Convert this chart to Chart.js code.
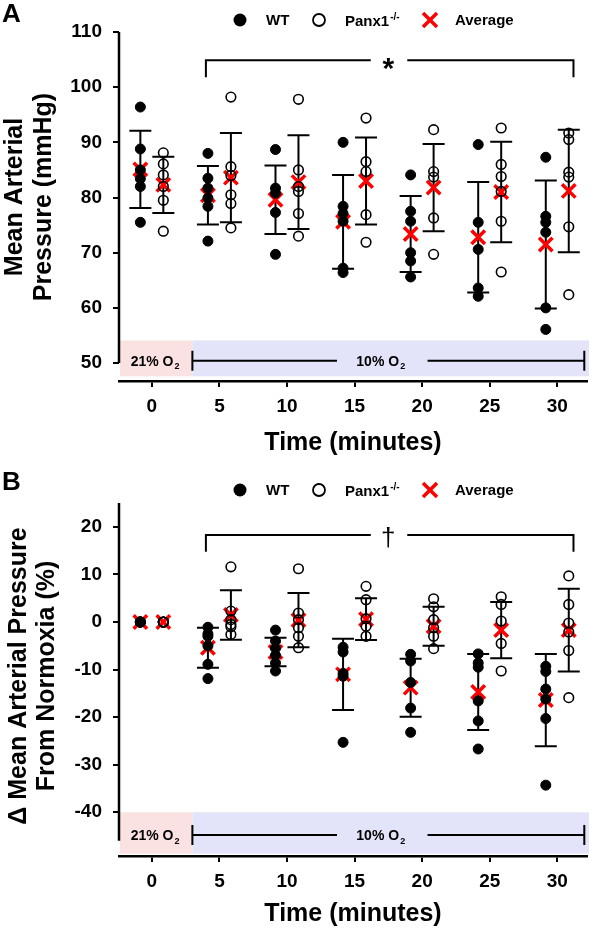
<!DOCTYPE html>
<html>
<head>
<meta charset="utf-8">
<script src="https://cdn.jsdelivr.net/npm/chart.js@4"></script>
<style>
    body { margin: 0; background: #fff; }
    #wrap { position: relative; width: 600px; height: 930px; }
    canvas { position: absolute; left: 0; }
</style>
</head>
<body>
<div id="wrap">
    <canvas id="graficoA" width="600" height="460" style="top:0"></canvas>
    <canvas id="graficoB" width="600" height="470" style="top:460px"></canvas>
</div>
<script>
const tempos = [0, 5, 10, 15, 20, 25, 30];
const ticksX = [0, 5, 10, 15, 20, 25, 30];
const ticksYA = [50, 60, 70, 80, 90, 100, 110];
const ticksYB = [-40, -30, -20, -10, 0, 10, 20];

// Painel A - pressao arterial media (mmHg), um array por tempo
const wtA = [
    [96.4, 88.8, 85.0, 83.4, 82.0, 75.5],
    [88.0, 83.5, 81.7, 79.9, 78.4, 72.1],
    [88.7, 81.7, 80.8, 77.3, 69.7],
    [90.0, 78.4, 77.1, 75.7, 67.2, 66.4],
    [84.1, 77.5, 75.7, 70.0, 68.5, 65.6],
    [89.6, 75.5, 70.6, 63.6, 62.1],
    [87.3, 76.6, 75.5, 73.7, 60.0, 56.1]
];
const panxA = [
    [88.1, 86.1, 84.1, 82.0, 79.5, 73.9],
    [98.2, 85.6, 84.0, 80.5, 78.9, 74.5],
    [97.8, 85.0, 82.0, 81.1, 77.1, 73.0],
    [94.4, 86.5, 84.7, 76.9, 71.9],
    [92.3, 84.7, 83.7, 76.3, 69.7],
    [92.6, 86.0, 83.8, 81.1, 75.7, 66.5],
    [91.7, 90.5, 84.6, 83.7, 74.7, 62.4]
];
const mediaWtA = [85.1, 80.4, 79.6, 75.6, 73.4, 72.8, 71.5];
const dpWtA = [7.0, 5.3, 6.2, 8.5, 6.9, 10.0, 11.6];
const mediaPanxA = [82.3, 83.6, 82.8, 83.0, 81.8, 81.0, 81.2];
const dpPanxA = [5.1, 8.1, 8.5, 7.9, 7.9, 9.1, 11.1];

// Painel B - variacao em relacao a normoxia (%)
const wtB = [
    [0, 0, 0, 0, 0, 0],
    [-1.1, -2.5, -3.0, -5.0, -8.9, -11.9],
    [-1.7, -4.0, -5.5, -7.0, -8.6, -10.3],
    [-5.3, -6.3, -10.8, -11.4, -25.3],
    [-6.8, -8.2, -12.7, -18.1, -23.2],
    [-6.7, -8.6, -9.5, -16.6, -20.8, -26.7],
    [-9.3, -10.4, -14.1, -16.2, -20.3, -34.3]
];
const panxB = [
    [0, 0, 0, 0, 0],
    [11.6, 2.3, 0.5, -0.5, -1.0, -2.6],
    [11.2, 1.9, 0.5, -1.2, -3.0, -5.4],
    [7.5, 4.7, 0.7, -0.9, -3.0],
    [4.9, 3.2, 0.5, -1.2, -3.0, -5.6],
    [5.3, 3.7, 0.2, -4.5, -10.3],
    [9.7, 3.7, -0.2, -2.1, -6.0, -15.9]
];
const mediaWtB = [0, -5.4, -6.3, -11.0, -13.8, -14.7, -16.4];
const dpWtB = [0, 4.2, 3.0, 7.5, 6.1, 8.0, 9.7];
const mediaPanxB = [0, 1.5, 0.4, 0.6, -0.9, -1.7, -1.7];
const dpPanxB = [0, 5.2, 5.7, 4.4, 4.1, 5.9, 8.7];

const FONTE = 'Arial, "Liberation Sans", sans-serif';
const DESLOC = 0.85; // deslocamento horizontal WT / Panx1 (min)

function pontos(grupos, desloc) {
    const lista = [];
    grupos.forEach((valores, i) => {
        valores.forEach(v => lista.push({ x: tempos[i] + desloc, y: v }));
    });
    return lista;
}

function pontosMedia(medias, desloc) {
    return medias.map((m, i) => ({ x: tempos[i] + desloc, y: m }));
}

function desenharBarras(ctx, escX, escY, medias, dps, desloc) {
    medias.forEach((m, i) => {
        if (!dps[i]) return;
        const px = escX.getPixelForValue(tempos[i] + desloc);
        const yTop = escY.getPixelForValue(m + dps[i]);
        const yBot = escY.getPixelForValue(m - dps[i]);
        ctx.beginPath();
        ctx.moveTo(px, yTop); ctx.lineTo(px, yBot);
        ctx.moveTo(px - 11, yTop); ctx.lineTo(px + 11, yTop);
        ctx.moveTo(px - 11, yBot); ctx.lineTo(px + 11, yBot);
        ctx.stroke();
    });
}

// texto com indice (O2) ou expoente (-/-)
function textoComIndice(ctx, base, indice, x, y, tam, sobe, alinhar) {
    ctx.font = "bold " + tam + "px " + FONTE;
    const w1 = ctx.measureText(base).width;
    ctx.font = "bold " + Math.round(tam * 0.65) + "px " + FONTE;
    const w2 = ctx.measureText(indice).width;
    let x0 = x;
    if (alinhar === "center") x0 = x - (w1 + w2) / 2;
    ctx.textAlign = "left";
    ctx.textBaseline = "alphabetic";
    ctx.font = "bold " + tam + "px " + FONTE;
    ctx.fillText(base, x0, y);
    ctx.font = "bold " + Math.round(tam * 0.65) + "px " + FONTE;
    ctx.fillText(indice, x0 + w1 + 1, sobe ? y - tam * 0.4 : y + tam * 0.25);
}

const pluginExtras = {
    id: "extras",
    beforeDatasetsDraw(chart, args, op) {
        const { ctx, chartArea, scales: { x, y } } = chart;
        ctx.save();
        // faixa de O2
        const yt = y.getPixelForValue(op.faixa[0]);
        const yb = y.getPixelForValue(op.faixa[1]);
        const xm = x.getPixelForValue(3);
        ctx.fillStyle = "#fbe2e2";
        ctx.fillRect(chartArea.left + 1, yt, xm - chartArea.left - 1, yb - yt);
        ctx.fillStyle = "#e3e3fa";
        ctx.fillRect(xm, yt, chartArea.right + 2 - xm, yb - yt);

        ctx.strokeStyle = "#000";
        ctx.fillStyle = "#000";
        ctx.lineWidth = 2;
        const yl = y.getPixelForValue(op.linhaFaixa);
        const xFim = x.getPixelForValue(32.0);
        ctx.beginPath();
        ctx.moveTo(xm, yl); ctx.lineTo(x.getPixelForValue(13.7), yl);
        ctx.moveTo(x.getPixelForValue(20.4), yl); ctx.lineTo(xFim, yl);
        ctx.moveTo(xm, yl - 10); ctx.lineTo(xm, yl + 10);
        ctx.moveTo(xFim, yl - 10); ctx.lineTo(xFim, yl + 10);
        ctx.stroke();
        textoComIndice(ctx, "21% O", "2", x.getPixelForValue(0.2), yl + 5, 14, false, "center");
        textoComIndice(ctx, "10% O", "2", x.getPixelForValue(16.9), yl + 5, 14, false, "center");

        // barras de erro (media +/- DP)
        ctx.lineWidth = 2;
        desenharBarras(ctx, x, y, op.mediaWt, op.dpWt, -DESLOC);
        desenharBarras(ctx, x, y, op.mediaPanx, op.dpPanx, DESLOC);
        ctx.restore();
    },
    afterDraw(chart, args, op) {
        const { ctx, chartArea, scales: { x, y } } = chart;
        ctx.save();
        ctx.strokeStyle = "#000";
        ctx.fillStyle = "#000";

        // eixo y
        ctx.lineWidth = 2.5;
        ctx.beginPath();
        ctx.moveTo(chartArea.left, y.getPixelForValue(op.eixoY[0]));
        ctx.lineTo(chartArea.left, y.getPixelForValue(op.eixoY[1]));
        ctx.stroke();

        // letra do painel
        ctx.font = "bold 26px " + FONTE;
        ctx.textAlign = "left";
        ctx.textBaseline = "top";
        ctx.fillText(op.letra, 2, op.letraY);

        // titulo do eixo y (duas linhas)
        ctx.save();
        ctx.translate(0, op.tituloY);
        ctx.rotate(-Math.PI / 2);
        ctx.font = "bold 25px " + FONTE;
        ctx.textAlign = "center";
        ctx.textBaseline = "middle";
        ctx.fillText(op.titulo[0], 0, op.tituloX[0]);
        ctx.fillText(op.titulo[1], 0, op.tituloX[1]);
        ctx.restore();

        // legenda
        const ly = op.legendaY;
        ctx.beginPath();
        ctx.arc(240, ly, 6.5, 0, Math.PI * 2);
        ctx.fill();
        ctx.lineWidth = 1.8;
        ctx.beginPath();
        ctx.arc(319, ly, 6, 0, Math.PI * 2);
        ctx.stroke();
        ctx.strokeStyle = "#ff0000";
        ctx.lineWidth = 3.5;
        ctx.beginPath();
        ctx.moveTo(423, ly - 7); ctx.lineTo(437, ly + 7);
        ctx.moveTo(437, ly - 7); ctx.lineTo(423, ly + 7);
        ctx.stroke();
        ctx.font = "bold 15px " + FONTE;
        ctx.textAlign = "left";
        ctx.textBaseline = "middle";
        ctx.fillText("WT", 266, ly + 1);
        ctx.fillText("Average", 455, ly + 1);
        textoComIndice(ctx, "Panx1", "-/-", 345, ly + 6, 15, true, "left");

        // colchete de significancia
        ctx.strokeStyle = "#000";
        ctx.lineWidth = 2;
        const bt = y.getPixelForValue(op.colchete[0]);
        const bb = y.getPixelForValue(op.colchete[1]);
        const x1 = x.getPixelForValue(4.0), x2 = x.getPixelForValue(31.2);
        ctx.beginPath();
        ctx.moveTo(x1, bb); ctx.lineTo(x1, bt); ctx.lineTo(x.getPixelForValue(16.2), bt);
        ctx.moveTo(x.getPixelForValue(18.9), bt); ctx.lineTo(x2, bt); ctx.lineTo(x2, bb);
        ctx.stroke();
        ctx.font = op.simboloFonte + FONTE;
        ctx.textAlign = "center";
        ctx.textBaseline = "alphabetic";
        ctx.fillText(op.simbolo, x.getPixelForValue(17.5), bt + op.simboloDesc);
        ctx.restore();
    }
};

function criarGrafico(id, cfg) {
    const ctx = document.getElementById(id).getContext("2d");
    return new Chart(ctx, {
        type: "scatter",
        data: {
            datasets: [
                {
                    label: "WT",
                    data: pontos(cfg.wt, -DESLOC),
                    pointRadius: 5,
                    pointBorderWidth: 1,
                    backgroundColor: "#000",
                    borderColor: "#000"
                },
                {
                    label: "Panx1-/-",
                    data: pontos(cfg.panx, DESLOC),
                    pointRadius: 4.8,
                    pointBorderWidth: 1.6,
                    backgroundColor: "rgba(0,0,0,0)",
                    borderColor: "#000"
                },
                {
                    label: "Average",
                    data: pontosMedia(cfg.mediaWt, -DESLOC).concat(pontosMedia(cfg.mediaPanx, DESLOC)),
                    pointStyle: "crossRot",
                    pointRadius: 9.5,
                    pointBorderWidth: 3.5,
                    borderColor: "#ff0000",
                    backgroundColor: "#ff0000"
                }
            ]
        },
        options: {
            responsive: false,
            animation: false,
            devicePixelRatio: 1,
            layout: { padding: { top: cfg.topo, right: 10, left: 0, bottom: 0 } },
            plugins: {
                legend: { display: false },
                tooltip: { enabled: false },
                extras: cfg.extras
            },
            scales: {
                x: {
                    type: "linear",
                    min: -2.43,
                    max: 32.2,
                    afterBuildTicks: s => { s.ticks = ticksX.map(v => ({ value: v })); },
                    afterFit: s => { s.height = cfg.alturaX; },
                    grid: { drawOnChartArea: false, drawTicks: true, tickLength: 6, color: "#000", lineWidth: 2 },
                    border: { display: true, color: "#000", width: 2.5 },
                    ticks: { color: "#000", padding: 8, maxRotation: 0, autoSkip: false,
                             font: { family: FONTE, size: 19, weight: "bold" } },
                    title: { display: true, text: "Time (minutes)", color: "#000",
                             font: { family: FONTE, size: 25, weight: "bold", lineHeight: 1 },
                             padding: { top: 0, bottom: cfg.padTitulo } }
                },
                y: {
                    type: "linear",
                    min: cfg.yMin,
                    max: cfg.yMax,
                    afterBuildTicks: s => { s.ticks = cfg.ticksY.map(v => ({ value: v })); },
                    afterFit: s => { s.width = 119; },
                    grid: { drawOnChartArea: false, drawTicks: true, tickLength: 6, color: "#000", lineWidth: 2 },
                    border: { display: false },
                    ticks: { color: "#000", padding: 11,
                             font: { family: FONTE, size: 19, weight: "bold" } }
                }
            }
        },
        plugins: [pluginExtras]
    });
}

criarGrafico("graficoA", {
    wt: wtA, panx: panxA, mediaWt: mediaWtA, mediaPanx: mediaPanxA,
    ticksY: ticksYA, yMin: 46.75, yMax: 110, topo: 32, alturaX: 79, padTitulo: 4,
    extras: {
        mediaWt: mediaWtA, dpWt: dpWtA, mediaPanx: mediaPanxA, dpPanx: dpPanxA,
        faixa: [54.1, 47.6], linhaFaixa: 50.4, eixoY: [110, 50],
        letra: "A", letraY: 2, legendaY: 20,
        titulo: ["Mean Arterial", "Pressure (mmHg)"], tituloX: [15, 44], tituloY: 197,
        colchete: [104.9, 101.8], simbolo: "*", simboloFonte: "bold 30px ", simboloDesc: 18
    }
});

criarGrafico("graficoB", {
    wt: wtB, panx: panxB, mediaWt: mediaWtB, mediaPanx: mediaPanxB,
    ticksY: ticksYB, yMin: -49.2, yMax: 25.03, topo: 43, alturaX: 74, padTitulo: 3,
    extras: {
        mediaWt: mediaWtB, dpWt: dpWtB, mediaPanx: mediaPanxB, dpPanx: dpPanxB,
        faixa: [-40, -48.7], linhaFaixa: -44.8, eixoY: [25.03, -46],
        letra: "B", letraY: 10, legendaY: 30,
        titulo: ["\u0394 Mean Arterial Pressure", "From Normoxia (%)"], tituloX: [19, 47], tituloY: 216,
        colchete: [18.3, 14.8], simbolo: "\u2020", simboloFonte: "26px ", simboloDesc: 11
    }
});
</script>
</body>
</html>
